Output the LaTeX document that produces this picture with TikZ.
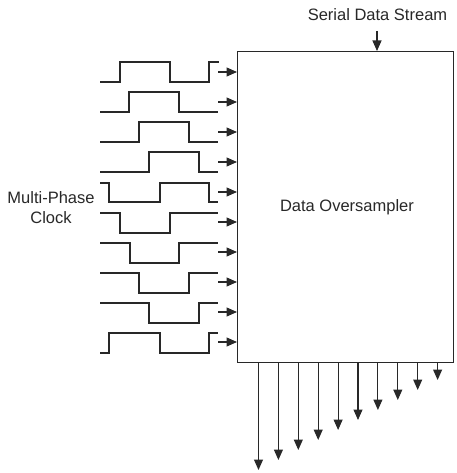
\documentclass[tikz,border=0pt]{standalone}
\usepackage{fontspec}
\setmainfont{Liberation Sans}
\usetikzlibrary{arrows.meta}
\definecolor{ink}{RGB}{40,40,40}
\tikzset{
  wave/.style={draw=ink, line width=1.4pt, line join=miter},
  arr/.style={draw=ink, line width=1.1pt, -{Triangle[length=10.5pt,width=9pt]}},
  lbl/.style={text=ink, font=\fontsize{16.5}{20}\selectfont, inner sep=0pt, align=center},
  blockbox/.style={draw=ink, line width=1.4pt, minimum width=216pt, minimum height=311pt, anchor=north west, inner sep=0pt}
}
\begin{document}
\begin{tikzpicture}[x=1pt,y=-1pt]
\useasboundingbox (0,0) rectangle (456,473);
% main block
\node[blockbox] (box) at (237,51) {};
\node[lbl] (title) at (347,207) {Data Oversampler};
% serial input
\node[lbl] (sds) at (377.5,15) {Serial Data Stream};
\coordinate (ser) at (377,31);
\draw[arr] (ser) -- (ser |- box.north);
% clock label
\node[lbl] (mpc) at (51,208) {Multi-Phase\\Clock};
% waveforms
\draw[wave] (100,82) -- (120,82) -- (120,62) -- (170,62) -- (170,82) -- (209,82) -- (209,62) -- (219,62);
\draw[wave] (100,112) -- (129,112) -- (129,92) -- (179,92) -- (179,112) -- (218,112);
\draw[wave] (100,142) -- (139,142) -- (139,122) -- (189,122) -- (189,142) -- (218,142);
\draw[wave] (100,172) -- (149,172) -- (149,152) -- (199,152) -- (199,172) -- (218,172);
\draw[wave] (100,183) -- (109,183) -- (109,202) -- (160,202) -- (160,183) -- (209,183) -- (209,202) -- (218,202);
\draw[wave] (100,213) -- (120,213) -- (120,233) -- (170,233) -- (170,213) -- (218,213);
\draw[wave] (100,243) -- (130,243) -- (130,263) -- (179,263) -- (179,243) -- (218,243);
\draw[wave] (100,273) -- (139,273) -- (139,293) -- (189,293) -- (189,273) -- (218,273);
\draw[wave] (100,303) -- (149,303) -- (149,323) -- (199,323) -- (199,303) -- (218,303);
\draw[wave] (100,353) -- (109,353) -- (109,333) -- (160,333) -- (160,353) -- (209,353) -- (209,333) -- (218,333);
% clock input arrows
\foreach \i in {0,...,9} {
  \coordinate (in\i) at (218,72+30*\i);
  \draw[arr] (in\i) -- (in\i -| box.west);
}
% parallel outputs
\foreach \i in {0,...,9} {
  \coordinate (out\i) at (258.5+19.9*\i,470-10*\i);
  \draw[arr] (out\i |- box.south) -- (out\i);
}
\end{tikzpicture}
\end{document}
